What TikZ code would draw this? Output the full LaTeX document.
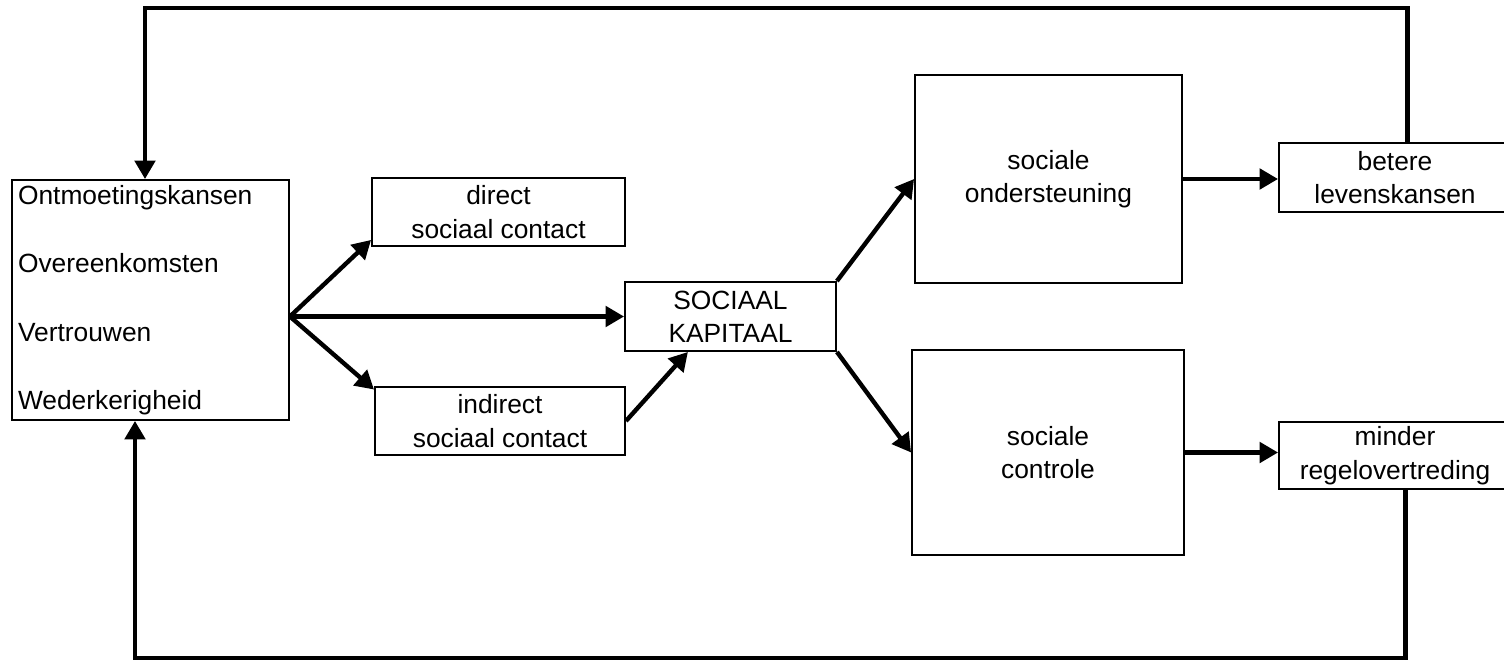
\documentclass[tikz,border=0pt]{standalone}
\usepackage{fontspec}
\setmainfont{Liberation Sans}
\usetikzlibrary{arrows.meta, positioning, calc}
\tikzset{%
  box/.style={draw, line width=1.1pt, inner sep=0pt, align=center,
    font=\fontsize{15}{19}\selectfont},
  flow/.style={line width=2.5pt, -{Triangle[length=10.5pt,width=11.5pt]}},
}
\begin{document}
\begin{tikzpicture}[x=0.02cm, y=-0.02cm]
  \useasboundingbox (0,0) rectangle (1504,662);

  \node[box, minimum width=5.54cm, minimum height=4.8cm, align=left,
    text width=5.3cm, font=\fontsize{15}{39}\selectfont] (ont) at (150.5,300)
    {Ontmoetingskansen\\Overeenkomsten\\Vertrouwen\\Wederkerigheid};
  \node[box, minimum width=5.06cm, minimum height=1.36cm] (dir) at (498.5,212) {direct\\sociaal contact};
  \node[box, minimum width=5.0cm, minimum height=1.36cm] (ind) at (500,421) {indirect\\sociaal contact};
  \node[box, minimum width=4.22cm, minimum height=1.38cm] (sk) at (730.5,316.5) {SOCIAAL\\KAPITAAL};
  \node[box, minimum width=5.34cm, minimum height=4.16cm] (ond) at (1048.5,179) {sociale\\ondersteuning};
  \node[box, minimum width=5.44cm, minimum height=4.1cm] (ctrl) at (1048,452.5) {sociale\\controle};
  \node[box, minimum width=4.64cm, minimum height=1.38cm] (bet) at (1395,177.5) {betere\\levenskansen};
  \node[box, minimum width=4.64cm, minimum height=1.34cm] (min) at (1395,455.5) {minder\\regelovertreding};

  \coordinate (fork) at (ont.east |- sk.west);
  \coordinate (topL) at (145,8);
  \coordinate (botL) at (135,658);

  \draw[flow] (fork) -- ([yshift=4pt]dir.south west);
  \draw[flow] (fork) -- (sk.west);
  \draw[flow] (fork) -- ([yshift=-2pt]ind.north west);
  \draw[flow] (ind.east) -- ($(sk.south west)!0.3!(sk.south east)$);
  \draw[flow] (sk.north east) -- (ond.west);
  \draw[flow] (sk.south east) -- (ctrl.west);
  \draw[flow] (ond.east) -- (ond.east -| bet.west);
  \draw[flow] (ctrl.east) -- (ctrl.east -| min.west);

  % terugkoppeling
  \draw[flow] ([xshift=7pt]bet.north) |- (topL) -- (topL |- ont.north);
  \draw[flow] ([xshift=6pt]min.south) |- (botL) -- (botL |- ont.south);
\end{tikzpicture}
\end{document}
